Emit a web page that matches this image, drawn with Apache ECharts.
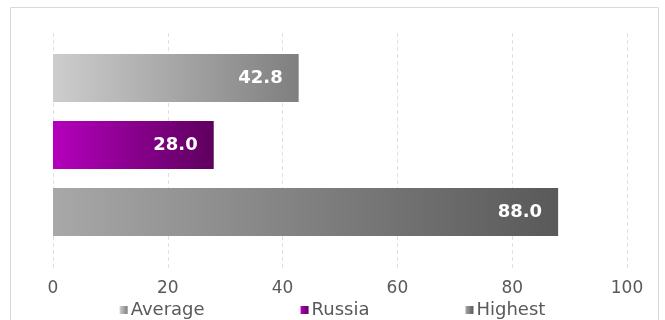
<!DOCTYPE html>
<html><head><meta charset="utf-8">
<script src="https://cdn.jsdelivr.net/npm/echarts@6/dist/echarts.min.js"></script>
<style>html,body{margin:0;padding:0;background:#fff}#c{width:665px;height:320px}</style>
</head><body><div id="c"></div>
<script>
const categories = ['Average', 'Russia', 'Highest'];
const values = [42.8, 28.0, 88.0];
const xTicks = [0, 20, 40, 60, 80, 100];
const gradStops = [
  ['#cdcdcd', '#7f7f7f'],
  ['#b400bc', '#5e005e'],
  ['#a8a8a8', '#595959']
];
const grad = (s) => new echarts.graphic.LinearGradient(0, 0, 1, 0, [{offset: 0, color: s[0]}, {offset: 1, color: s[1]}]);
const font = "'DejaVu Sans', sans-serif";
const chart = echarts.init(document.getElementById('c'), null, {renderer: 'canvas'});
chart.setOption({
  animation: false,
  graphic: [{type: 'rect', shape: {x: 10.5, y: 7.5, width: 648, height: 330}, style: {fill: 'none', stroke: '#d9d9d9', lineWidth: 1}, z: 0}],
  legend: {
    bottom: -4, left: 'center', itemGap: 96, itemWidth: 8, itemHeight: 8,
    icon: 'rect',
    textStyle: {color: '#595959', fontSize: 18, fontFamily: font, padding: [0, 0, 0, -2]},
    data: categories.map((c, i) => ({name: c, itemStyle: {color: grad(gradStops[i])}}))
  },
  grid: [
    {left: 53, right: 38, top: 47, bottom: 72},
    {left: 53, right: 38, top: 33, bottom: 52}
  ],
  xAxis: [
    {gridIndex: 0, type: 'value', min: 0, max: 100, interval: 20, show: false},
    {gridIndex: 1, type: 'value', min: xTicks[0], max: xTicks[xTicks.length - 1], interval: 20,
     axisLine: {show: false}, axisTick: {show: false},
     axisLabel: {color: '#595959', fontSize: 17, fontFamily: font, margin: 12},
     splitLine: {show: true, lineStyle: {color: '#e0e0e0', type: [4, 3], width: 1}}}
  ],
  yAxis: [
    {gridIndex: 0, type: 'category', data: categories, inverse: true, show: false},
    {gridIndex: 1, type: 'category', data: categories, show: false}
  ],
  series: [{
    type: 'bar', xAxisIndex: 0, yAxisIndex: 0,
    barWidth: 48,
    data: values.map((v, i) => ({name: categories[i], value: v, itemStyle: {color: grad(gradStops[i])}})),
    label: {show: true, position: 'insideRight', distance: 16, color: '#fff', fontWeight: 'bold', fontSize: 18,
      fontFamily: font, formatter: (p) => p.value.toFixed(1)}
  },
  ...categories.map((c, i) => ({type: 'bar', name: c, xAxisIndex: 0, yAxisIndex: 0, data: [], itemStyle: {color: grad(gradStops[i])}}))]
});
</script></body></html>
